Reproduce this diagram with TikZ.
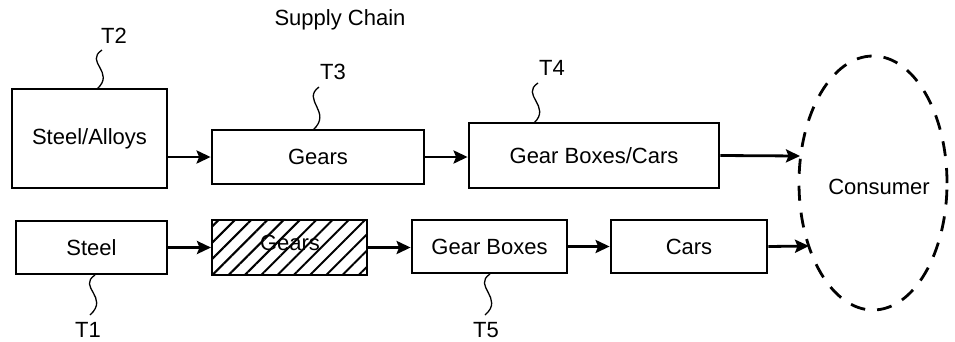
\documentclass[tikz,border=0pt]{standalone}
\usepackage{fontspec}
\setmainfont{Liberation Sans}
\usetikzlibrary{arrows.meta,patterns.meta,shapes.geometric}
\begin{document}
\begin{tikzpicture}[x=1pt,y=-1pt,
  txt/.style={font=\fontsize{22}{26}\selectfont},
  lbl/.style={txt,inner sep=1pt},
  box/.style={draw,line width=2.8pt,inner sep=0pt,txt},
  flow/.style={line width=2.8pt,-{Stealth[length=14pt,width=13pt,inset=2.5pt]}},
  squig/.style={line width=1.3pt},
  hatch/.style={pattern={Lines[angle=45,distance=11.5pt,line width=2pt]}}
]
\useasboundingbox (0,0) rectangle (955,341);

\node[txt] (title) at (340,20) {Supply Chain};

% top row
\node[box,minimum width=155pt,minimum height=99pt] (sa) at (89.5,138.5) {Steel/Alloys};
\node[box,minimum width=212pt,minimum height=54pt] (g3) at (318,157) {Gears};
\node[box,minimum width=250pt,minimum height=65pt] (gbc) at (594,155.5) {Gear Boxes/Cars};

% consumer
\node[ellipse,draw,line width=2.8pt,dash pattern=on 15pt off 12pt,inner sep=0pt,
      minimum width=148pt,minimum height=254pt,txt] (cons) at (873,183) {};
\node[txt] (constxt) at (879,187) {Consumer};
\coordinate (c1) at (800,156);
\coordinate (c2) at (809,246);

% bottom row
\node[box,minimum width=151pt,minimum height=53pt] (st) at (91.5,247.5) {Steel};
\node[box,hatch,minimum width=155pt,minimum height=55pt] (g1) at (289.5,247.5) {};
\node[txt] (g1t) at (290,243) {Gears};
\node[box,minimum width=155pt,minimum height=53pt] (gb) at (489.5,246.5) {Gear Boxes};
\node[box,minimum width=156pt,minimum height=53pt] (cars) at (689,246.5) {Cars};

% arrows
\draw[flow] (sa.east |- g3.west) -- (g3.west);
\draw[flow] (g3.east) -- (g3.east -| gbc.west);
\draw[flow] (gbc.east) -- (c1);
\draw[flow] (st.east |- g1.west) -- (g1.west);
\draw[flow] (g1.east) -- (g1.east -| gb.west);
\draw[flow] (gb.east) -- (gb.east -| cars.west);
\draw[flow] (cars.east) -- (c2);

% labels
\node[lbl] (t2) at (114,36) {T2};
\node[lbl] (t3) at (333,72) {T3};
\node[lbl] (t4) at (552,68) {T4};
\node[lbl] (t1) at (88,330) {T1};
\node[lbl] (t5) at (486,330) {T5};

\coordinate (s2a) at (102,50);  \coordinate (s2b) at (97,89);
\coordinate (s3a) at (319,87);  \coordinate (s3b) at (313,130);
\coordinate (s4a) at (538,83);  \coordinate (s4b) at (534,123);
\coordinate (s1a) at (95,275);  \coordinate (s1b) at (90,315);
\coordinate (s5a) at (490,274); \coordinate (s5b) at (485,315);

\draw[squig] (s2a) .. controls (84,62) and (116,72) .. (s2b);
\draw[squig] (s3a) .. controls (301,100) and (333,112) .. (s3b);
\draw[squig] (s4a) .. controls (520,95) and (552,106) .. (s4b);
\draw[squig] (s1a) .. controls (77,287) and (110,297) .. (s1b);
\draw[squig] (s5a) .. controls (472,286) and (505,298) .. (s5b);
\end{tikzpicture}
\end{document}
